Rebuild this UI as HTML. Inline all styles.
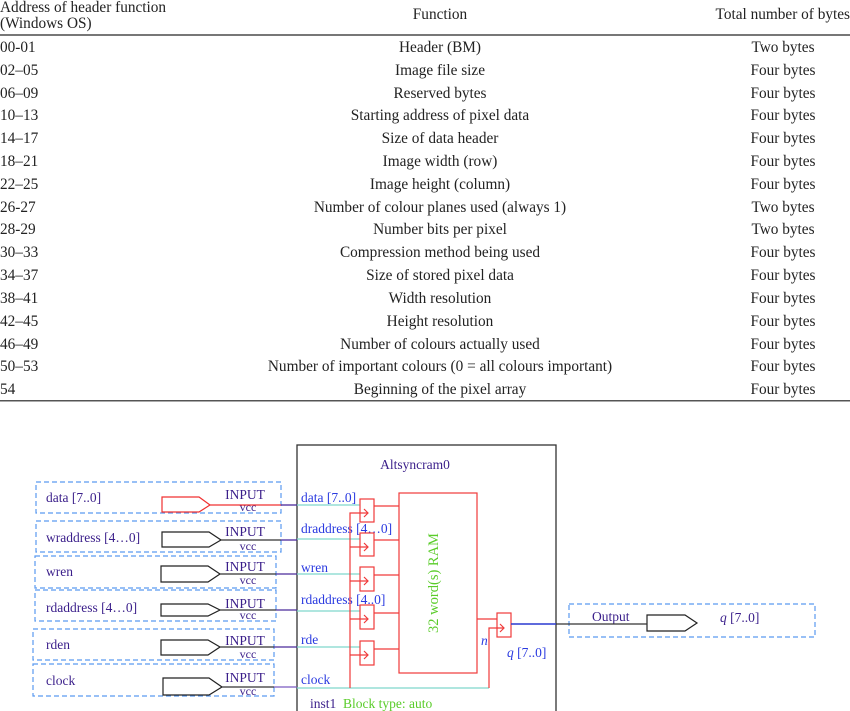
<!DOCTYPE html>
<html><head><meta charset="utf-8"><style>
body{margin:0;width:850px;height:711px;background:#fff;overflow:hidden;font-family:"Liberation Serif",serif;}
svg{position:absolute;left:0;top:0}
</style></head><body>
<svg width="850" height="711" xmlns="http://www.w3.org/2000/svg" font-family="Liberation Serif, serif">
<g font-size="15.3" fill="#222">
<text x="0" y="12">Address of header function</text>
<text x="0" y="28">(Windows OS)</text>
<text x="440" y="19" text-anchor="middle">Function</text>
<text x="850" y="19" text-anchor="end">Total number of bytes</text>
</g>
<rect x="0" y="34" width="850" height="2" fill="#777"/>
<g font-size="15.3" fill="#222">
<text x="0" y="52">00-01</text><text x="440" y="52" text-anchor="middle">Header (BM)</text><text x="783" y="52" text-anchor="middle">Two bytes</text>
<text x="0" y="75">02–05</text><text x="440" y="75" text-anchor="middle">Image file size</text><text x="783" y="75" text-anchor="middle">Four bytes</text>
<text x="0" y="98">06–09</text><text x="440" y="98" text-anchor="middle">Reserved bytes</text><text x="783" y="98" text-anchor="middle">Four bytes</text>
<text x="0" y="120">10–13</text><text x="440" y="120" text-anchor="middle">Starting address of pixel data</text><text x="783" y="120" text-anchor="middle">Four bytes</text>
<text x="0" y="143">14–17</text><text x="440" y="143" text-anchor="middle">Size of data header</text><text x="783" y="143" text-anchor="middle">Four bytes</text>
<text x="0" y="166">18–21</text><text x="440" y="166" text-anchor="middle">Image width (row)</text><text x="783" y="166" text-anchor="middle">Four bytes</text>
<text x="0" y="189">22–25</text><text x="440" y="189" text-anchor="middle">Image height (column)</text><text x="783" y="189" text-anchor="middle">Four bytes</text>
<text x="0" y="212">26-27</text><text x="440" y="212" text-anchor="middle">Number of colour planes used (always 1)</text><text x="783" y="212" text-anchor="middle">Two bytes</text>
<text x="0" y="234">28-29</text><text x="440" y="234" text-anchor="middle">Number bits per pixel</text><text x="783" y="234" text-anchor="middle">Two bytes</text>
<text x="0" y="257">30–33</text><text x="440" y="257" text-anchor="middle">Compression method being used</text><text x="783" y="257" text-anchor="middle">Four bytes</text>
<text x="0" y="280">34–37</text><text x="440" y="280" text-anchor="middle">Size of stored pixel data</text><text x="783" y="280" text-anchor="middle">Four bytes</text>
<text x="0" y="303">38–41</text><text x="440" y="303" text-anchor="middle">Width resolution</text><text x="783" y="303" text-anchor="middle">Four bytes</text>
<text x="0" y="326">42–45</text><text x="440" y="326" text-anchor="middle">Height resolution</text><text x="783" y="326" text-anchor="middle">Four bytes</text>
<text x="0" y="349">46–49</text><text x="440" y="349" text-anchor="middle">Number of colours actually used</text><text x="783" y="349" text-anchor="middle">Four bytes</text>
<text x="0" y="371">50–53</text><text x="440" y="371" text-anchor="middle">Number of important colours (0 = all colours important)</text><text x="783" y="371" text-anchor="middle">Four bytes</text>
<text x="0" y="394">54</text><text x="440" y="394" text-anchor="middle">Beginning of the pixel array</text><text x="783" y="394" text-anchor="middle">Four bytes</text>
</g>
<rect x="0" y="400" width="850" height="1.5" fill="#555"/>

<rect x="297" y="445" width="259" height="270" fill="none" stroke="#333" stroke-width="1.3"/>
<text x="415" y="469" font-size="13.5" fill="#3a1e8a" text-anchor="middle">Altsyncram0</text>

<g fill="none" stroke="#5a9af0" stroke-width="1.2" stroke-dasharray="5,3">
<rect x="36" y="482" width="245" height="31"/>
<rect x="36" y="521" width="245" height="31"/>
<rect x="35" y="556" width="241" height="32"/>
<rect x="35" y="590" width="241" height="31"/>
<rect x="33" y="629" width="241" height="31"/>
<rect x="33" y="664" width="241" height="32"/>
<rect x="569" y="604" width="246" height="33"/>
</g>
<g font-size="13.5" fill="#3a1e8a">
<text x="46" y="502">data [7..0]</text>
<text x="46" y="542">wraddress [4…0]</text>
<text x="46" y="576">wren</text>
<text x="46" y="612">rdaddress [4…0]</text>
<text x="46" y="649">rden</text>
<text x="46" y="685">clock</text>
<g text-anchor="middle">
<text x="245" y="499">INPUT</text><text x="248" y="511" font-size="12">vcc</text>
<text x="245" y="536">INPUT</text><text x="248" y="550" font-size="12">vcc</text>
<text x="245" y="571">INPUT</text><text x="248" y="584" font-size="12">vcc</text>
<text x="245" y="608">INPUT</text><text x="248" y="619" font-size="12">vcc</text>
<text x="245" y="645">INPUT</text><text x="248" y="658" font-size="12">vcc</text>
<text x="245" y="682">INPUT</text><text x="248" y="695" font-size="12">vcc</text>
</g>
<text x="592" y="621">Output</text>
<text x="720" y="622"><tspan font-style="italic">q</tspan> [7..0]</text>
</g>
<polygon points="162,497 199,497 210,505 199,512 162,512" fill="none" stroke="#f03030" stroke-width="1.2"/>
<g fill="none" stroke="#222" stroke-width="1.2">
<polygon points="162,532 209,532 221,540 209,547 162,547"/>
<polygon points="161,566 208,566 220,574 208,582 161,582"/>
<polygon points="161,604 208,604 220,610 208,616 161,616"/>
<polygon points="161,640 208,640 220,647 208,655 161,655"/>
<polygon points="163,678 209,678 222,687 209,695 163,695"/>
<polygon points="647,615 685,615 697,623 685,631 647,631"/>
</g>
<line x1="210" y1="505" x2="281" y2="505" stroke="#f03030" stroke-width="1.2"/>
<g stroke="#333" stroke-width="1.3">
<line x1="221" y1="540" x2="281" y2="540"/>
<line x1="220" y1="574" x2="276" y2="574"/>
<line x1="220" y1="610" x2="276" y2="610"/>
<line x1="220" y1="647" x2="274" y2="647"/>
<line x1="222" y1="687" x2="274" y2="687"/>
<line x1="556" y1="624" x2="647" y2="624"/>
</g>
<g stroke="#4a2a9a" stroke-width="1.3">
<line x1="281" y1="505" x2="297" y2="505"/>
<line x1="281" y1="540" x2="297" y2="540"/>
<line x1="276" y1="574" x2="297" y2="574"/>
<line x1="276" y1="610" x2="297" y2="610"/>
<line x1="274" y1="647" x2="297" y2="647"/>
<line x1="274" y1="687" x2="297" y2="687" stroke="#7a5ac0"/>
</g>
<g stroke="#7fd8cc" stroke-width="1.3">
<line x1="297" y1="505" x2="360" y2="505"/>
<line x1="297" y1="539" x2="360" y2="539"/>
<line x1="297" y1="574" x2="360" y2="574"/>
<line x1="297" y1="611" x2="360" y2="611"/>
<line x1="297" y1="647" x2="360" y2="647"/>
<line x1="297" y1="688" x2="489" y2="688"/>
</g>
<g font-size="13.5" fill="#2a3ae0">
<text x="301" y="502">data [7..0]</text>
<text x="301" y="533">draddress [4…0]</text>
<text x="301" y="572">wren</text>
<text x="301" y="604">rdaddress [4..0]</text>
<text x="301" y="644">rde</text>
<text x="301" y="684">clock</text>
<text x="507" y="657"><tspan font-style="italic">q</tspan> [7..0]</text>
<text x="481" y="645" font-style="italic">n</text>
</g>
<g fill="none" stroke="#f03a3a" stroke-width="1.2">
<rect x="399" y="493" width="78" height="180"/>
<rect x="360" y="499" width="14" height="23"/>
<rect x="360" y="533" width="14" height="23"/>
<rect x="360" y="567" width="14" height="24"/>
<rect x="360" y="605" width="14" height="24"/>
<rect x="360" y="641" width="14" height="24"/>
<rect x="497" y="613" width="14" height="24"/>
<polyline points="350,688 350,513 368,513"/>
<line x1="350" y1="547" x2="368" y2="547"/>
<line x1="350" y1="581" x2="368" y2="581"/>
<line x1="350" y1="619" x2="368" y2="619"/>
<line x1="350" y1="655" x2="368" y2="655"/>
<polyline points="364,509 368,513 364,517"/>
<polyline points="364,543 368,547 364,551"/>
<polyline points="364,577 368,581 364,585"/>
<polyline points="364,615 368,619 364,623"/>
<polyline points="364,651 368,655 364,659"/>
<line x1="374" y1="506" x2="399" y2="506"/>
<line x1="374" y1="540" x2="399" y2="540"/>
<line x1="374" y1="575" x2="399" y2="575"/>
<line x1="374" y1="613" x2="399" y2="613"/>
<line x1="374" y1="649" x2="399" y2="649"/>
<line x1="477" y1="619" x2="497" y2="619"/>
<polyline points="489,688 489,628 504,628"/>
<polyline points="500,624 504,628 500,632"/>
</g>
<line x1="511" y1="624" x2="556" y2="624" stroke="#2a3ad0" stroke-width="1.5"/>
<text transform="translate(438,583) rotate(-90)" font-size="14.5" fill="#5acc2a" text-anchor="middle">32 word(s) RAM</text>
<text x="310" y="708" font-size="13.5" fill="#3a1e8a">inst1</text>
<text x="343" y="708" font-size="13.5" fill="#5acc2a">Block type: auto</text>
</svg>
</body></html>
